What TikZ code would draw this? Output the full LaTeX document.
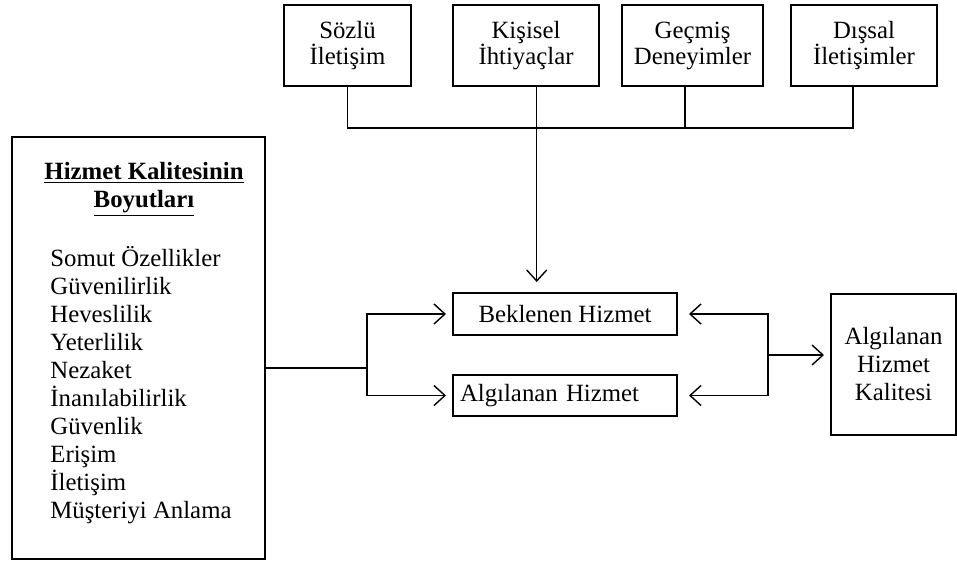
\documentclass[tikz,border=0pt]{standalone}
\usepackage{fontspec}
\setmainfont{Liberation Serif}
\usetikzlibrary{arrows.meta,calc}
\newcommand\mytightlines{\lineskiplimit=-5pt\relax}
\begin{document}
\begin{tikzpicture}[x=0.5pt,y=-0.5pt,
  box/.style={draw=black, line width=1pt, inner sep=2pt, align=center, font={\fontsize{12.4}{13}\selectfont\mytightlines}},
  topbox/.style={box, minimum height=40.5pt},
  conn/.style={draw=black, line width=0.8pt},
  arr/.style={conn, -{Straight Barb[length=5.5pt,width=10pt,line width=0.7pt]}},
  txt/.style={font=\fontsize{12.4}{14}\selectfont, inner sep=0pt},
  ttl/.style={font=\bfseries\fontsize{12.4}{14}\selectfont, inner sep=0pt},
]
\useasboundingbox (0,0) rectangle (957,562);

% top boxes
\node[topbox, minimum width=63.5pt] (s1) at (347.5,45.5) {Sözlü\\İletişim};
\node[topbox, minimum width=73pt] (s2) at (526,45.5) {Kişisel\\İhtiyaçlar};
\node[topbox, minimum width=70.5pt] (s3) at (692.5,45.5) {Geçmiş\\Deneyimler};
\node[topbox, minimum width=73pt] (s4) at (864,45.5) {Dışsal\\İletişimler};

% left box
\node[draw=black, line width=1pt, minimum width=126.5pt, minimum height=211pt] (dims) at (138.5,348) {};
\node[ttl, anchor=base] (t1) at (144,179) {\underline{Hizmet Kalitesinin}};
\node[ttl, anchor=base] (t2) at (144,207) {\underline{Boyutları}};
\foreach \t [count=\i] in {Somut Özellikler, Güvenilirlik, Heveslilik, Yeterlilik, Nezaket, İnanılabilirlik, Güvenlik, Erişim, İletişim, Müşteriyi Anlama}
  \node[txt, anchor=base west] (d\i) at (50,{266+28*(\i-1)}) {\t};

% middle boxes
\node[box, minimum width=112pt, minimum height=21pt] (bek) at (565,314) {Beklenen Hizmet};
\node[box, minimum height=20.5pt, text width=105pt, inner xsep=3.5pt, align=left] (alg) at (565,395.5) {Algılanan Hizmet};

% right box
\node[box, minimum width=62.5pt, minimum height=70.5pt, font={\fontsize{12.4}{14}\selectfont\mytightlines}] (qual) at (893.5,364.5) {Algılanan\\Hizmet\\Kalitesi};

% connectors
\draw[conn] (s1.south) -- ++(0,41) -| ([xshift=-5.5pt]s4.south);
\draw[conn] ([xshift=-3.75pt]s3.south) -- ++(0,41);
\coordinate (kdrop) at (536.7,282);
\draw[arr, line width=0.5pt] (s2.south -| kdrop) -- (kdrop);
\coordinate (lj) at (366.7,367.7);
\draw[conn] (dims.east |- lj) -- (lj);
\draw[arr] (lj) |- ([xshift=-3pt]bek.west);
\draw[arr] (lj) |- ([xshift=-3pt]alg.west);
\coordinate (rj) at (768,355);
\draw[arr] (rj) |- ([xshift=5.5pt]bek.east);
\draw[arr] (rj) |- ([xshift=5.5pt]alg.east);
\draw[arr] (rj) -- ([xshift=-3pt]qual.west |- rj);
\end{tikzpicture}
\end{document}
